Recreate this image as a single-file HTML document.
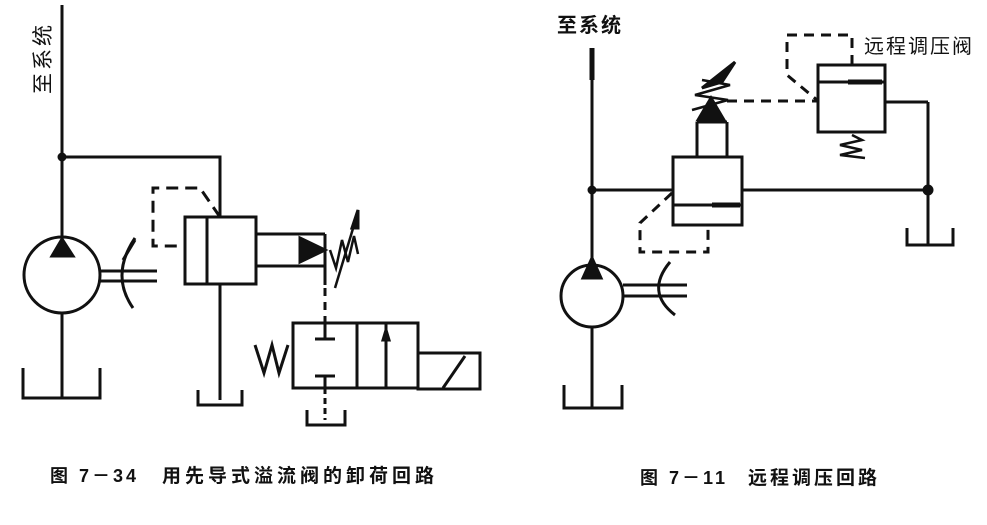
<!DOCTYPE html>
<html><head><meta charset="utf-8"><style>
html,body{margin:0;padding:0;background:#fff;}
svg{display:block;}
text{font-family:"Liberation Sans","Noto Sans CJK SC",sans-serif;fill:#111;}
</style></head><body>
<svg width="987" height="525" viewBox="0 0 987 525" xmlns="http://www.w3.org/2000/svg">
<g stroke="#111" stroke-width="3" fill="none">
<!-- LEFT DIAGRAM -->
<line x1="62" y1="5" x2="62" y2="240"/>
<circle cx="62" cy="157" r="3" fill="#111"/>
<polyline points="62,157 220,157 220,217"/>
<circle cx="62" cy="275" r="38"/>
<polygon points="62,239 52,256 73,256" fill="#111"/>
<line x1="100" y1="271" x2="157" y2="271"/>
<line x1="100" y1="281" x2="157" y2="281"/>
<path d="M135,238 Q110,275 133,308"/>
<line x1="123" y1="260" x2="135" y2="240"/>
<line x1="62" y1="313" x2="62" y2="398"/>
<polyline points="23,368 23,398 100,398 100,368"/>
<rect x="185" y="217" width="71" height="67"/>
<line x1="207" y1="217" x2="207" y2="284"/>
<polyline points="220,217 200,188 153,188 153,246 185,246" stroke-dasharray="12,7"/>
<line x1="256" y1="234" x2="325" y2="234"/>
<line x1="256" y1="266" x2="325" y2="266"/>
<polygon points="300,238 325,250 300,262" fill="#111"/>
<line x1="325" y1="234" x2="325" y2="285"/>
<polyline points="330,250 336,268 342,240 348,262 354,236 358,254" stroke-width="2.5"/>
<line x1="335" y1="288" x2="358" y2="212" stroke-width="2.5"/>
<polygon points="358,210 352,228 358,228" fill="#111"/>
<line x1="220" y1="284" x2="220" y2="400"/>
<polyline points="198,390 198,405 242,405 242,390"/>
<line x1="325" y1="288" x2="325" y2="323" stroke-dasharray="8,6"/>
<rect x="293" y="323" width="125" height="65"/>
<line x1="357" y1="323" x2="357" y2="388"/>
<line x1="386" y1="323" x2="386" y2="388"/>
<polygon points="386,330 383,340 389,340" fill="#111"/>
<line x1="325" y1="323" x2="325" y2="339"/>
<line x1="315" y1="339" x2="335" y2="339"/>
<line x1="315" y1="376" x2="335" y2="376"/>
<line x1="325" y1="376" x2="325" y2="388"/>
<rect x="418" y="353" width="62" height="36"/>
<line x1="443" y1="388" x2="465" y2="356"/>
<polyline points="255,345 264,373 272,345 279,373 288,345"/>
<line x1="325" y1="388" x2="325" y2="420" stroke-dasharray="6,4"/>
<polyline points="307,410 307,425 345,425 345,410"/>

<!-- RIGHT DIAGRAM -->
<line x1="592" y1="60" x2="592" y2="258"/>
<line x1="592" y1="48" x2="592" y2="80" stroke-width="5"/>
<circle cx="592" cy="190" r="3" fill="#111"/>
<line x1="592" y1="190" x2="672" y2="190"/>
<circle cx="592" cy="296" r="31"/>
<polygon points="592,258 583,278 601,278" fill="#111"/>
<line x1="623" y1="285" x2="687" y2="285"/>
<line x1="623" y1="296" x2="687" y2="296"/>
<path d="M670,262 Q645,292 675,315"/>
<line x1="592" y1="327" x2="592" y2="408"/>
<polyline points="564,385 564,408 622,408 622,385"/>
<rect x="673" y="157" width="69" height="68"/>
<line x1="673" y1="205" x2="742" y2="205"/>
<line x1="712" y1="205" x2="740" y2="205" stroke-width="5"/>
<line x1="742" y1="190" x2="928" y2="190"/>
<circle cx="928" cy="190" r="4" fill="#111"/>
<line x1="928" y1="102" x2="928" y2="245"/>
<line x1="885" y1="102" x2="928" y2="102"/>
<polyline points="907,228 907,245 953,245 953,228"/>
<line x1="697" y1="157" x2="697" y2="122"/>
<line x1="727" y1="157" x2="727" y2="122"/>
<line x1="697" y1="122" x2="727" y2="122"/>
<polygon points="711,98 698,120 724,120" fill="#111"/>
<polyline points="692,110 728,100 695,95 730,85 702,80" stroke-width="2.5"/>
<path d="M702,88 L735,62 L722,82 Z" fill="#111"/>
<line x1="727" y1="101" x2="817" y2="101" stroke-dasharray="10,7"/>
<rect x="818" y="65" width="67" height="67"/>
<line x1="818" y1="82" x2="885" y2="82"/>
<line x1="848" y1="82" x2="882" y2="82" stroke-width="5"/>
<polyline points="852,135 862,140 840,145 862,150 840,155 865,158" stroke-width="2.5"/>
<polyline points="852,65 852,35 787,35 787,75 817,100" stroke-dasharray="10,7"/>
<polyline points="672,193 640,223 640,252 708,252 708,225" stroke-dasharray="10,7"/>
</g>
<text x="0" y="0" font-size="21" letter-spacing="3" transform="translate(50,94) rotate(-90)">至系统</text>
<text x="557" y="32" font-size="20" font-weight="bold" letter-spacing="2">至系统</text>
<text x="864" y="53" font-size="20" letter-spacing="2">远程调压阀</text>
<text x="50" y="482" font-size="18" font-weight="bold" letter-spacing="3">图 7－34</text>
<text x="162" y="482" font-size="19" font-weight="bold" letter-spacing="4">用先导式溢流阀的卸荷回路</text>
<text x="640" y="484" font-size="18" font-weight="bold" letter-spacing="3">图 7－11</text>
<text x="748" y="484" font-size="19" font-weight="bold" letter-spacing="3">远程调压回路</text>
</svg>
</body></html>
